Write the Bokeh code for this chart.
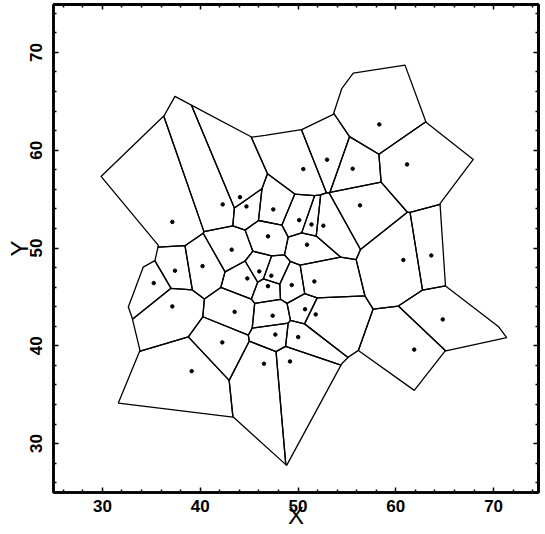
from bokeh.plotting import figure
from bokeh.models import LinearAxis, FixedTicker, Range1d
from bokeh.embed import file_html
from bokeh.resources import INLINE

# ---- data ----
seed_x = [42.30, 44.73, 44.07, 47.47, 50.12, 51.38, 52.59, 46.93, 43.22, 50.92,
          40.24, 46.04, 47.27, 44.82, 51.67, 46.93, 49.36, 50.72, 51.81, 43.52,
          47.41, 47.68, 50.02, 42.26, 46.52, 49.18, 37.15, 58.31, 52.97, 50.54,
          55.59, 61.15, 56.34, 60.77, 63.63, 64.80, 61.88, 39.13, 37.42, 35.25, 37.15]
seed_y = [54.46, 54.25, 55.20, 53.95, 52.85, 52.41, 52.28, 51.19, 49.83, 50.34,
          48.15, 47.61, 47.17, 46.89, 46.58, 46.10, 46.21, 43.74, 43.21, 43.47,
          43.08, 41.15, 40.89, 40.35, 38.17, 38.40, 52.67, 62.64, 59.03, 58.07,
          58.11, 58.55, 54.36, 48.78, 49.24, 42.70, 39.61, 37.41, 47.68, 46.41, 44.03]

# outer window of the tessellation
boundary_x = [29.86, 36.33, 37.42, 45.27, 46.63, 50.38, 53.61, 54.47, 55.65, 60.94,
              63.09, 67.92, 64.52, 65.08, 70.48, 71.34, 65.03, 61.89, 56.17, 55.14,
              54.47, 48.84, 43.38, 31.63, 33.84, 33.03, 32.65, 34.18, 35.38, 35.72]
boundary_y = [57.32, 63.56, 65.50, 61.34, 61.51, 62.10, 63.66, 66.29, 67.88, 68.70,
              62.87, 59.06, 54.53, 46.12, 41.98, 40.83, 39.46, 35.44, 39.53, 38.84,
              38.17, 27.77, 32.71, 34.14, 39.53, 42.90, 43.96, 48.05, 48.73, 50.27]

major_ticks = [30, 40, 50, 60, 70]
minor_ticks = [26, 28, 32, 34, 36, 38, 42, 44, 46, 48, 52, 54, 56, 58,
               62, 64, 66, 68, 72, 74]
x_label = "X"
y_label = "Y"


def clip(poly, a, b, c):
    """Keep the part of poly with a*x + b*y <= c (Sutherland-Hodgman)."""
    out = []
    n = len(poly)
    for k in range(n):
        P = poly[k]
        Q = poly[(k + 1) % n]
        fp = a * P[0] + b * P[1] - c
        fq = a * Q[0] + b * Q[1] - c
        if fp <= 0:
            out.append(P)
        if (fp < 0 < fq) or (fq < 0 < fp):
            t = fp / (fp - fq)
            out.append((P[0] + t * (Q[0] - P[0]), P[1] + t * (Q[1] - P[1])))
    return out


window = list(zip(boundary_x, boundary_y))
cell_xs, cell_ys = [], []
for i, (xi, yi) in enumerate(zip(seed_x, seed_y)):
    poly = window[:]
    for j, (xj, yj) in enumerate(zip(seed_x, seed_y)):
        if i == j:
            continue
        a = xj - xi
        b = yj - yi
        c = (xj * xj + yj * yj - xi * xi - yi * yi) / 2.0
        poly = clip(poly, a, b, c)
        if not poly:
            break
    if poly:
        cell_xs.append([q[0] for q in poly])
        cell_ys.append([q[1] for q in poly])

p = figure(frame_width=485, frame_height=488,
           x_range=Range1d(25, 74.59), y_range=Range1d(25, 74.90),
           output_backend="svg", toolbar_location=None,
           min_border_left=53, min_border_right=4, min_border_top=4, min_border_bottom=42,
           background_fill_color="white", border_fill_color="white")
p.xgrid.visible = False
p.ygrid.visible = False
p.outline_line_color = "black"
p.outline_line_width = 2.5


def style(ax, ticker, tick_in, minor_in):
    ax.ticker = ticker
    ax.axis_line_width = 2.5
    ax.axis_line_color = "black"
    ax.major_tick_in = tick_in
    ax.major_tick_out = 0
    ax.minor_tick_in = minor_in
    ax.minor_tick_out = 0
    ax.major_tick_line_width = 1.5
    ax.minor_tick_line_width = 1.5
    ax.major_tick_line_color = "black"
    ax.minor_tick_line_color = "black"
    ax.major_label_text_font = "Liberation Sans"
    ax.major_label_text_font_style = "bold"
    ax.major_label_text_font_size = "17px"
    ax.major_label_text_color = "black"
    ax.axis_label_text_font = "Liberation Sans"
    ax.axis_label_text_font_style = "normal"
    ax.axis_label_text_font_size = "24px"
    ax.axis_label_text_color = "black"


style(p.below[0], FixedTicker(ticks=major_ticks, minor_ticks=minor_ticks), 5, 3)
style(p.left[0], FixedTicker(ticks=major_ticks, minor_ticks=minor_ticks), 5, 3)
p.below[0].major_label_standoff = 7
p.below[0].axis_label = x_label
p.below[0].axis_label_standoff = -13
p.left[0].major_label_standoff = 11
p.left[0].major_label_orientation = "vertical"
p.left[0].axis_label = y_label
p.left[0].axis_label_standoff = -5

# mirrored inward ticks on the right and top, without labels
for side in ("right", "above"):
    big = LinearAxis()
    style(big, FixedTicker(ticks=[], minor_ticks=major_ticks), 0, 5)
    p.add_layout(big, side)
    small = LinearAxis()
    style(small, FixedTicker(ticks=[], minor_ticks=minor_ticks), 0, 3)
    p.add_layout(small, side)

p.patches(cell_xs, cell_ys, fill_color=None, line_color="black", line_width=1.3)
p.scatter(seed_x, seed_y, size=3.5, color="black")

open("out.html", "w").write(file_html(p, INLINE))
